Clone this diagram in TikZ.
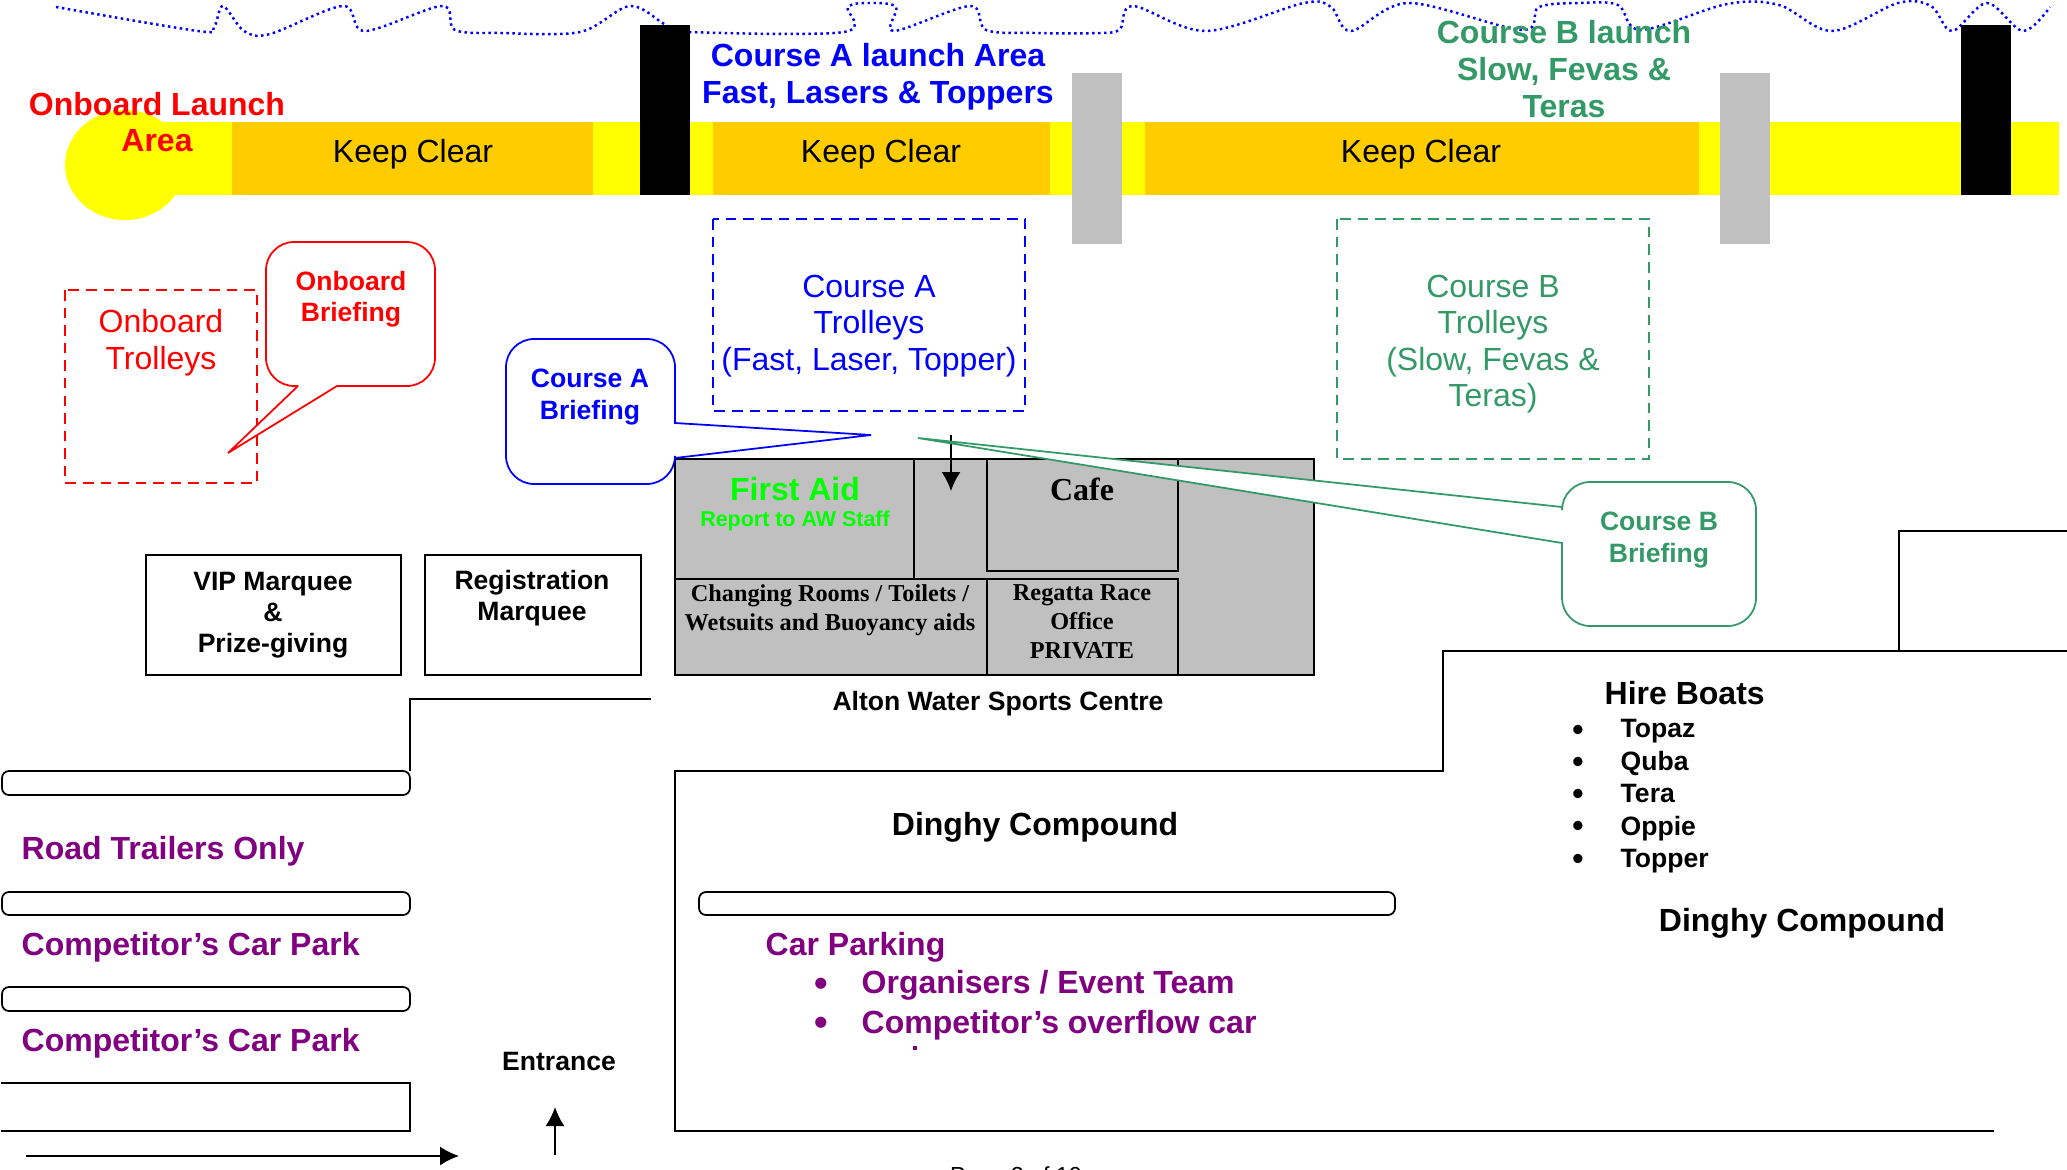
\documentclass[tikz,border=0pt]{standalone}
\usepackage{fontspec}
\setmainfont{Liberation Sans}
\newfontfamily\timesfont{Liberation Serif}
\usetikzlibrary{arrows.meta}
\definecolor{stripyellow}{HTML}{FFFF00}
\definecolor{keepclear}{HTML}{FFCC00}
\definecolor{slipgrey}{HTML}{C0C0C0}
\definecolor{courseb}{HTML}{339966}
\definecolor{carpurple}{HTML}{800080}
\definecolor{aidgreen}{HTML}{00FF00}
\tikzset{
  txt/.style={align=center,inner sep=0pt,font=\fontsize{9.1}{10.4}\selectfont},
  boldtxt/.style={align=center,inner sep=0pt,font=\bfseries\fontsize{9.1}{10.4}\selectfont},
  smalltxt/.style={align=center,inner sep=0pt,font=\bfseries\fontsize{7.55}{8.9}\selectfont},
  roomtxt/.style={align=center,inner sep=0pt,font=\timesfont\bfseries\fontsize{6.9}{8.3}\selectfont},
  leftbold/.style={boldtxt,anchor=base west},
  leftsmall/.style={smalltxt,anchor=base west},
  trolleys/.style={draw,dashed,line width=0.5pt,dash pattern=on 3pt off 2pt},
  bubble/.style={fill=white,line width=0.5pt,miter limit=2},
  bar/.style={line width=0.6pt},
  thinline/.style={line width=0.5pt}
}
\begin{document}
\begin{tikzpicture}[x=0.01cm,y=-0.01cm]
  \useasboundingbox (0,0) rectangle (2067,1170);
  \clip (0,0) rectangle (2067,1170);
  % shoreline
  \draw[blue,densely dotted,line width=0.7pt] plot[smooth,tension=0.55] coordinates {
    (56,7) (198,31) (214,27) (223,6) (244,31) (270,34) (343,6) (365,31) (442,6) (455,30)
    (501,33) (580,32) (630,6) (666,25) (689,32) (844,32) (848,7) (871,3) (896,7) (894,31)
    (970,6) (986,30) (1034,33) (1100,33) (1120,29) (1133,6) (1206,31) (1304,3) (1331,7)
    (1351,31) (1409,3) (1522,30) (1539,7) (1581,3) (1618,5) (1641,30) (1727,4) (1779,5)
    (1832,31) (1898,3) (1931,6) (1952,31) (1987,3) (2023,31) (2050,7)};
  % launch strip
  \fill[stripyellow] (125,165) ellipse (60 and 55);
  \fill[stripyellow] (125,122) rectangle (2059,195);
  \fill[keepclear] (232,122) rectangle (593,195);
  \fill[keepclear] (713,122) rectangle (1050,195);
  \fill[keepclear] (1145,122) rectangle (1699,195);
  \fill[black] (640,25) rectangle (690,195);
  \fill[black] (1961,25) rectangle (2011,195);
  \fill[slipgrey] (1072,73) rectangle (1122,244);
  \fill[slipgrey] (1720,73) rectangle (1770,244);
  \node[txt] (clearone) at (413,154) {Keep Clear};
  \node[txt] (cleartwo) at (881,154) {Keep Clear};
  \node[txt] (clearthree) at (1421,154) {Keep Clear};
  \node[boldtxt,red] (onboardlaunch) at (157,122) {Onboard Launch\\Area};
  \node[boldtxt,blue] (courselauncha) at (878,77) {Course A launch Area\\Fast, Lasers \& Toppers};
  \node[boldtxt,courseb] (courselaunchb) at (1564,69) {Course B launch\\Slow, Fevas \&\\Teras};
  % trolley parks
  \draw[trolleys,red] (65,290) rectangle (257,483);
  \draw[trolleys,blue] (713,219) rectangle (1025,411);
  \draw[trolleys,courseb] (1337,219) rectangle (1649,459);
  \node[txt,red] (onboardtrolleys) at (161,343) {Onboard\\Trolleys};
  \node[txt,blue] (coursetrolleysa) at (869,326) {Course A\\Trolleys\\(Fast, Laser, Topper)};
  \node[txt,courseb] (coursetrolleysb) at (1493,344) {Course B\\Trolleys\\(Slow, Fevas \&\\Teras)};
  % club house
  \draw[fill=slipgrey,bar] (675,459) rectangle (1314,675);
  \draw[bar] (914,459) -- (914,579);
  \draw[bar] (675,579) -- (1178,579);
  \draw[bar] (987,459) rectangle (1178,571);
  \draw[bar] (987,579) rectangle (1178,675);
  \coordinate (doorstart) at (951,435);
  \coordinate (doorend) at (951,491);
  \draw[-{Latex[length=5.4pt,width=5.4pt]},thinline] (doorstart) -- (doorend);
  \node[boldtxt,aidgreen] (firstaid) at (795,489) {First Aid};
  \node[aidgreen,align=center,inner sep=0pt,font=\bfseries\fontsize{6.1}{7}\selectfont] (reportaid) at (795,521) {Report to AW Staff};
  \node[roomtxt,font=\timesfont\bfseries\fontsize{9.1}{10.4}\selectfont] (cafe) at (1082,489) {Cafe};
  \node[roomtxt] (changing) at (830,610) {Changing Rooms / Toilets /\\Wetsuits and Buoyancy aids};
  \node[roomtxt] (regatta) at (1082,622) {Regatta Race\\Office\\PRIVATE};
  \node[smalltxt] (alton) at (998,704) {Alton Water Sports Centre};
  % briefing bubbles
  \draw[bubble,draw=red] (298,386) [rounded corners=8pt] -- (266,386) -- (266,242) -- (435,242) -- (435,386) [sharp corners] -- (337,386) -- (228,453) -- cycle;
  \draw[bubble,draw=blue] (675,458) [rounded corners=8pt] -- (675,484) -- (506,484) -- (506,339) -- (675,339) [sharp corners] -- (675,423) -- (871,435) -- cycle;
  \draw[bubble,draw=courseb] (1562,543) [rounded corners=8pt] -- (1562,626) -- (1756,626) -- (1756,482) -- (1562,482) [sharp corners] -- (1562,507) -- (918,438) -- cycle;
  \node[smalltxt,red] (onboardbrief) at (351,299) {Onboard\\Briefing};
  \node[smalltxt,blue] (briefa) at (590,397) {Course A\\Briefing};
  \node[smalltxt,courseb] (briefb) at (1659,540) {Course B\\Briefing};
  % marquees
  \draw[bar] (146,555) rectangle (401,675);
  \draw[bar] (425,555) rectangle (641,675);
  \node[smalltxt] (vip) at (273,615) {VIP Marquee\\\&\\Prize-giving};
  \node[smalltxt] (registration) at (532,598) {Registration\\Marquee};
  % road and car parks
  \draw[bar] (651,699) -- (410,699) -- (410,771);
  \draw[thinline,rounded corners=2pt] (2,771) rectangle (410,795);
  \draw[thinline,rounded corners=2pt] (2,892) rectangle (410,915);
  \draw[thinline,rounded corners=2pt] (2,987) rectangle (410,1011);
  \draw[thinline] (1,1083) -- (410,1083) -- (410,1131) -- (1,1131);
  \coordinate (roadstart) at (26,1156);
  \coordinate (roadend) at (459,1156);
  \coordinate (entrystart) at (555,1155);
  \coordinate (entryend) at (555,1107);
  \draw[-{Latex[length=5.4pt,width=5.4pt]},thinline] (roadstart) -- (roadend);
  \draw[-{Latex[length=5.4pt,width=5.4pt]},thinline] (entrystart) -- (entryend);
  \node[leftbold,carpurple] (roadtrailers) at (21,859) {Road Trailers Only};
  \node[leftbold,carpurple] (carparkone) at (21,955) {Competitor’s Car Park};
  \node[leftbold,carpurple] (carparktwo) at (21,1051) {Competitor’s Car Park};
  \node[smalltxt] (entrance) at (559,1061) {Entrance};
  % dinghy compound
  \draw[bar] (1994,1131) -- (675,1131) -- (675,771) -- (1443,771) -- (1443,651) -- (2067,651);
  \draw[bar] (1899,651) -- (1899,531) -- (2067,531);
  \draw[thinline,rounded corners=2pt] (699,892) rectangle (1395,915);
  \node[boldtxt] (compoundone) at (1035,827) {Dinghy Compound};
  \node[boldtxt] (compoundtwo) at (1802,923) {Dinghy Compound};
  \node[leftbold] (hire) at (1604,704) {Hire Boats};
  \node[leftsmall] (topaz) at (1620,737) {Topaz};
  \node[leftsmall] (quba) at (1620,770) {Quba};
  \node[leftsmall] (tera) at (1620,802) {Tera};
  \node[leftsmall] (oppie) at (1620,835) {Oppie};
  \node[leftsmall] (topper) at (1620,867) {Topper};
  \node[boldtxt] (bullettopaz) at (1578,733) {•};
  \node[boldtxt] (bulletquba) at (1578,765) {•};
  \node[boldtxt] (bullettera) at (1578,797) {•};
  \node[boldtxt] (bulletoppie) at (1578,829) {•};
  \node[boldtxt] (bullettopper) at (1578,862) {•};
  \node[leftbold,carpurple] (carparking) at (765,955) {Car Parking};
  \node[leftbold,carpurple] (organisers) at (861,993) {Organisers / Event Team};
  \node[leftbold,carpurple] (overflow) at (861,1033) {Competitor’s overflow car};
  \node[boldtxt,carpurple,font=\bfseries\fontsize{11}{12}\selectfont] (bulletorg) at (821,987) {•};
  \node[boldtxt,carpurple,font=\bfseries\fontsize{11}{12}\selectfont] (bulletover) at (821,1026) {•};
  \fill[carpurple] (913,1046) rectangle (917,1050);
  \node[txt,font=\fontsize{6.6}{8}\selectfont,anchor=north] (pagenumber) at (1016,1166) {Page 2 of 10};
\end{tikzpicture}
\end{document}
